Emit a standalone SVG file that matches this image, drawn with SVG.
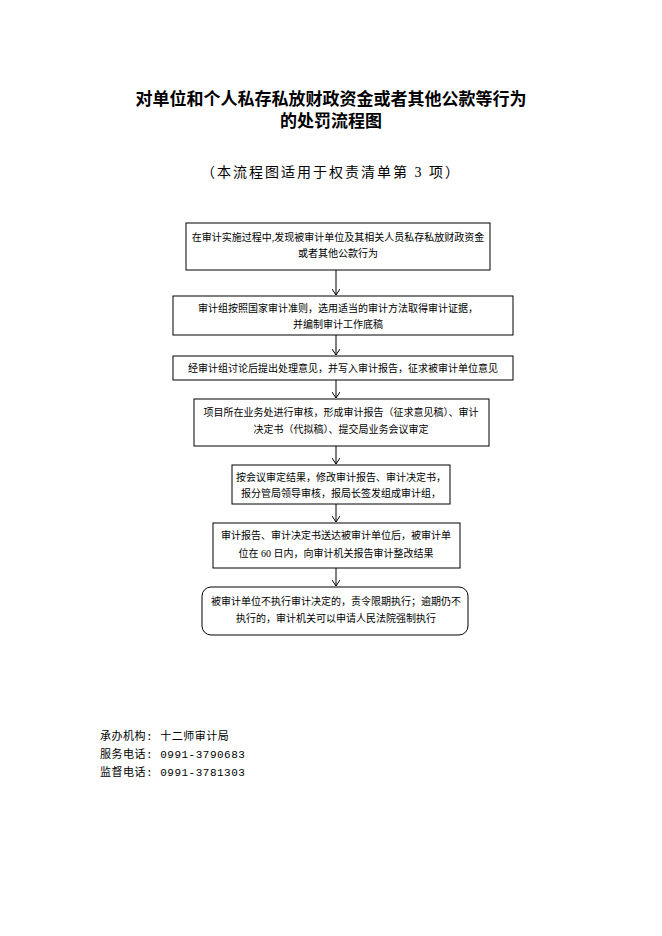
<svg xmlns="http://www.w3.org/2000/svg" width="662" height="936" viewBox="0 0 662 936">
<style>
.b{fill:#fff;stroke:#000;stroke-width:1}
.t{font-family:"Liberation Serif","Noto Sans CJK SC",serif;font-size:10px;text-anchor:middle;fill:#000}
.c{stroke:#000;stroke-width:1;fill:none;marker-end:url(#a)}
.f{font-family:"Liberation Mono","Noto Sans CJK SC",monospace;font-size:11px;fill:#000;letter-spacing:0.5px}
</style>
<defs><marker id="a" markerWidth="8" markerHeight="8" refX="7" refY="4" orient="auto" markerUnits="userSpaceOnUse"><path d="M1,0 L7,4 L1,8" fill="none" stroke="#000"/></marker></defs>
<rect width="662" height="936" fill="#fff"/>
<text x="331" y="105" font-family="Liberation Serif,Noto Sans CJK SC,serif" font-size="17" font-weight="bold" text-anchor="middle">对单位和个人私存私放财政资金或者其他公款等行为</text>
<text x="331" y="127" font-family="Liberation Serif,Noto Sans CJK SC,serif" font-size="17" font-weight="bold" text-anchor="middle">的处罚流程图</text>
<text x="331" y="177" font-family="Liberation Serif,Noto Sans CJK SC,serif" font-size="14" text-anchor="middle" letter-spacing="2">（本流程图适用于权责清单第 3 项）</text>
<g id="connectors">
<line class="c" x1="336" y1="270" x2="336" y2="295"/>
<line class="c" x1="336" y1="335" x2="336" y2="355"/>
<line class="c" x1="336" y1="380" x2="336" y2="398"/>
<line class="c" x1="336" y1="446" x2="336" y2="464"/>
<line class="c" x1="336" y1="504" x2="336" y2="522"/>
<line class="c" x1="336" y1="568" x2="336" y2="586"/>
</g>
<g id="n1"><rect class="b" x="186" y="223" width="304" height="47"/><text class="t" x="338" y="241">在审计实施过程中,发现被审计单位及其相关人员私存私放财政资金</text><text class="t" x="338" y="257">或者其他公款行为</text></g>
<g id="n2"><rect class="b" x="173" y="296" width="340" height="39"/><text class="t" x="338" y="312">审计组按照国家审计准则，选用适当的审计方法取得审计证据，</text><text class="t" x="338" y="328">并编制审计工作底稿</text></g>
<g id="n3"><rect class="b" x="173" y="356" width="340" height="24"/><text class="t" x="343" y="372">经审计组讨论后提出处理意见，并写入审计报告，征求被审计单位意见</text></g>
<g id="n4"><rect class="b" x="194" y="399" width="295" height="47"/><text class="t" x="341" y="416">项目所在业务处进行审核，形成审计报告（征求意见稿）、审计</text><text class="t" x="341" y="433">决定书（代拟稿）、提交局业务会议审定</text></g>
<g id="n5"><rect class="b" x="232" y="465" width="218" height="39"/><text class="t" x="341" y="481">按会议审定结果，修改审计报告、审计决定书，</text><text class="t" x="341" y="497">报分管局领导审核，报局长签发组成审计组，</text></g>
<g id="n6"><rect class="b" x="213" y="523" width="247" height="45"/><text class="t" x="336" y="539">审计报告、审计决定书送达被审计单位后，被审计单</text><text class="t" x="336" y="557">位在 60 日内，向审计机关报告审计整改结果</text></g>
<g id="n7"><rect class="b" x="202" y="587" width="266" height="48" rx="9"/><text class="t" x="336" y="605">被审计单位不执行审计决定的，责令限期执行；逾期仍不</text><text class="t" x="336" y="622">执行的，审计机关可以申请人民法院强制执行</text></g>
<text class="f" x="100" y="740">承办机构: 十二师审计局</text>
<text class="f" x="100" y="758">服务电话: 0991-3790683</text>
<text class="f" x="100" y="776">监督电话: 0991-3781303</text>
</svg>
